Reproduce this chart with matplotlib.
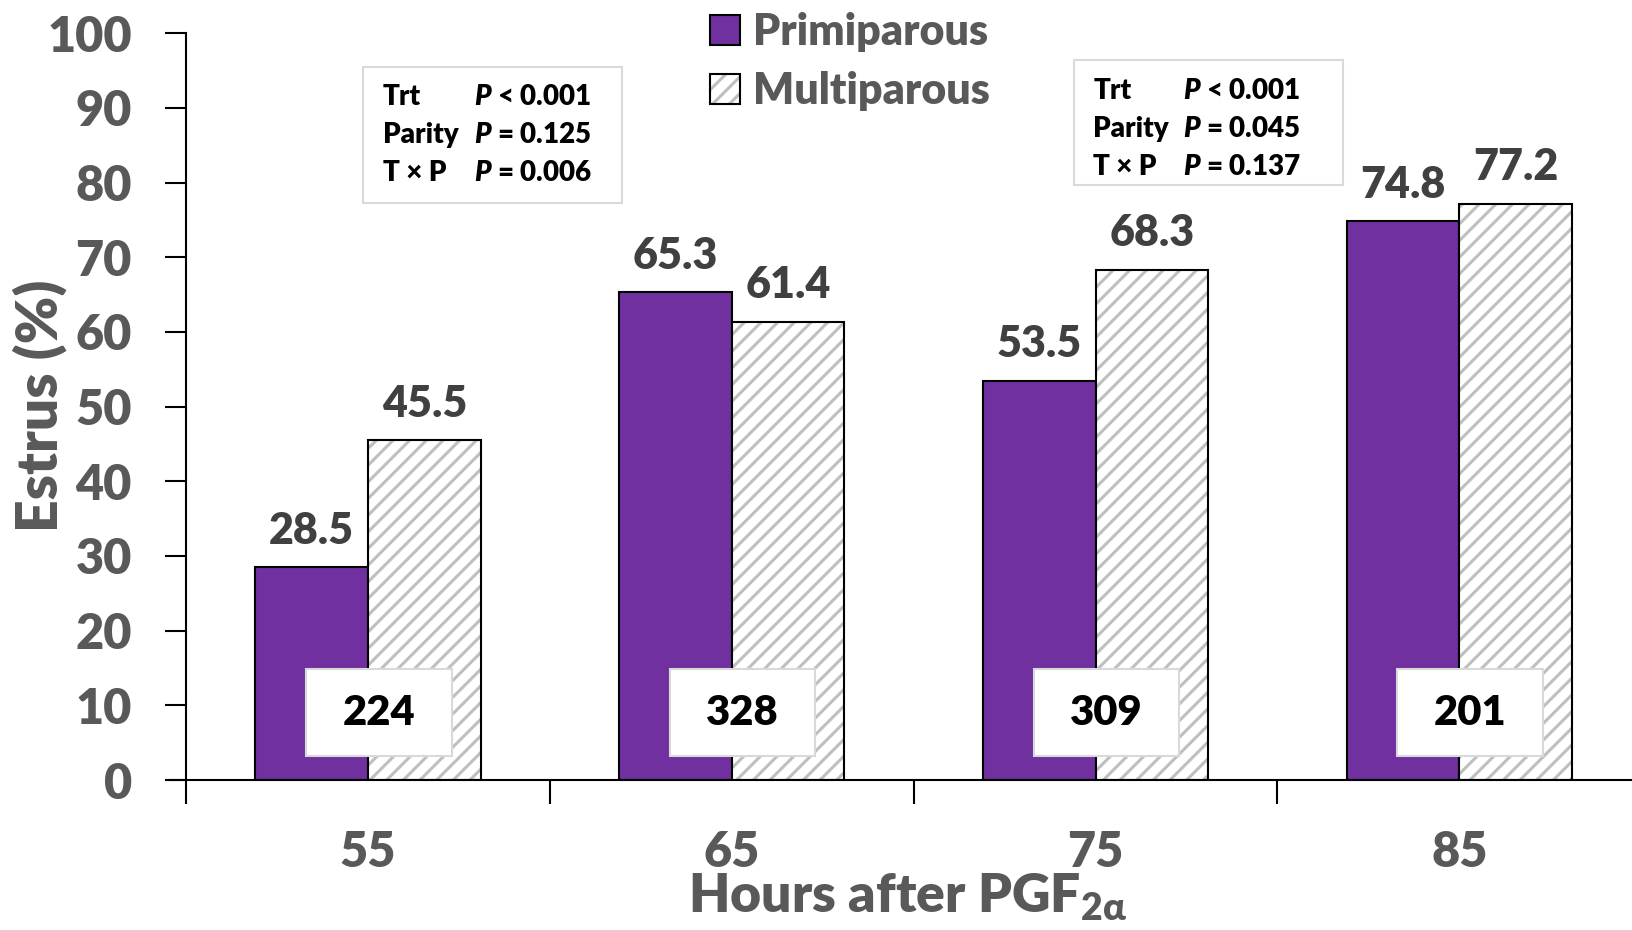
import matplotlib
matplotlib.use("Agg")
import matplotlib.pyplot as plt
from matplotlib.patches import Patch, Rectangle
import numpy as np

# --- data ---
hours = ["55", "65", "75", "85"]
primiparous = [28.5, 65.3, 53.5, 74.8]
multiparous = [45.5, 61.4, 68.3, 77.2]
n_cows = [224, 328, 309, 201]

effects = ["Trt", "Parity", "T × P"]
pvals_left = ["< 0.001", "= 0.125", "= 0.006"]
pvals_right = ["< 0.001", "= 0.045", "= 0.137"]

# --- style ---
WT = "heavy"  # Lato 800 is the closest to Calibri bold
plt.rcParams["font.family"] = ["Lato", "DejaVu Sans"]
plt.rcParams["font.weight"] = WT
plt.rcParams["mathtext.fontset"] = "custom"
plt.rcParams["mathtext.rm"] = "Lato:heavy"
plt.rcParams["mathtext.bf"] = "Lato:heavy"
plt.rcParams["mathtext.it"] = "Lato:italic:heavy"
plt.rcParams["mathtext.bfit"] = "Lato:italic:heavy"
plt.rcParams["hatch.linewidth"] = 2.2

purple = "#7030a0"
grey_txt = "#595959"
dark_txt = "#404040"
hatch_col = "#bfbfbf"

fig = plt.figure(figsize=(16.32, 9.3), dpi=100)
W, H = 1632, 930
ax_l, ax_r, ax_t, ax_b = 186, 186 + 4 * 363.8, 33.3, 780
ax = fig.add_axes([ax_l / W, 1 - ax_b / H, (ax_r - ax_l) / W, (ax_b - ax_t) / H])

x = np.arange(len(hours))
w = 0.31

ax.bar(x - w / 2, primiparous, w, color=purple, edgecolor="black", linewidth=1.5, zorder=2)
# hatched fill (grey hatch) + black outline drawn separately
ax.bar(x + w / 2, multiparous, w, color="white", edgecolor=hatch_col, linewidth=0,
       hatch="//", zorder=2)
ax.bar(x + w / 2, multiparous, w, fill=False, edgecolor="black", linewidth=1.5, zorder=3)

# value labels
for xi, v in zip(x - w / 2, primiparous):
    ax.annotate(f"{v}", (xi, v), xytext=(0, 17), textcoords="offset points",
                ha="center", va="baseline", fontsize=31, color=dark_txt, fontweight=WT)
for xi, v in zip(x + w / 2, multiparous):
    ax.annotate(f"{v}", (xi, v), xytext=(0, 17), textcoords="offset points",
                ha="center", va="baseline", fontsize=31, color=dark_txt, fontweight=WT)

# n boxes
for xi, n in zip(x, n_cows):
    ax.add_patch(Rectangle((xi + 0.03 - 0.2, 3.2), 0.4, 11.6, facecolor="white",
                           edgecolor="#d9d9d9", linewidth=1.5, zorder=4))
    ax.text(xi + 0.03, 9.0, str(n), ha="center", va="center", fontsize=30,
            color="black", fontweight=WT, zorder=5)

# axes
ax.set_xlim(-0.5, 3.5)
ax.set_ylim(0, 100)
ax.set_yticks(np.arange(0, 101, 10))
ax.tick_params(axis="y", length=15, width=1.5, pad=24, labelsize=35, labelcolor=grey_txt)
ax.set_xticks(np.arange(-0.5, 4, 1))
ax.set_xticklabels([])
ax.tick_params(axis="x", which="major", length=17, width=1.5)
ax.set_xticks(x, minor=True)
ax.set_xticklabels(hours, minor=True)
ax.tick_params(axis="x", which="minor", length=0, pad=36, labelsize=35, labelcolor=grey_txt)
for s in ["top", "right"]:
    ax.spines[s].set_visible(False)
ax.spines["left"].set_linewidth(1.5)
ax.spines["bottom"].set_linewidth(1.5)
ax.spines["bottom"].set_bounds(-0.545, 3.5)

fig.text(40 / W, 1 - 406 / H, "Estrus (%)", rotation=90, ha="center", va="center",
         fontsize=41, color=grey_txt, fontweight=WT)
fig.text(908 / W, 1 - 897 / H, r"Hours after PGF$_{\mathbf{2\alpha}}$", ha="center",
         va="center", fontsize=38.5, color=grey_txt, fontweight=WT)

# legend
h_prim = Patch(facecolor=purple, edgecolor="black", linewidth=1.5)
h_multi = (Patch(facecolor="white", edgecolor=hatch_col, linewidth=0, hatch="//"),
           Patch(fill=False, edgecolor="black", linewidth=1.5))
leg = fig.legend([h_prim, h_multi], ["Primiparous", "Multiparous"], loc="upper left",
                 bbox_to_anchor=(710 / W, 1 - 12 / H), frameon=False, fontsize=31,
                 handlelength=0.7, handleheight=0.7, handletextpad=0.3,
                 labelspacing=0.45, borderpad=0, borderaxespad=0)
for t in leg.get_texts():
    t.set_color(grey_txt)


# stats boxes (axes fraction coords)
def stats_box(x0, x1, y0, y1, lx, px, ys, pvals):
    ax.add_patch(Rectangle((x0, y0), x1 - x0, y1 - y0, transform=ax.transAxes,
                           facecolor="white", edgecolor="#d9d9d9", linewidth=1.5, zorder=4))
    for lab, pv, yy in zip(effects, pvals, ys):
        ax.text(lx, yy, lab, transform=ax.transAxes, ha="left", va="center",
                fontsize=20, color="black", fontweight=WT, zorder=5)
        ax.text(px, yy, r"$\mathbfit{P}$ " + pv, transform=ax.transAxes, ha="left",
                va="center", fontsize=20, color="black", fontweight=WT, zorder=5)


stats_box(0.1216, 0.2997, 0.7727, 0.955, 0.1354, 0.1979, [0.9146, 0.8637, 0.8129], pvals_left)
stats_box(0.6103, 0.7952, 0.7968, 0.9642, 0.6234, 0.6852, [0.9227, 0.8718, 0.8209], pvals_right)

fig.savefig("out.png", dpi=100)
